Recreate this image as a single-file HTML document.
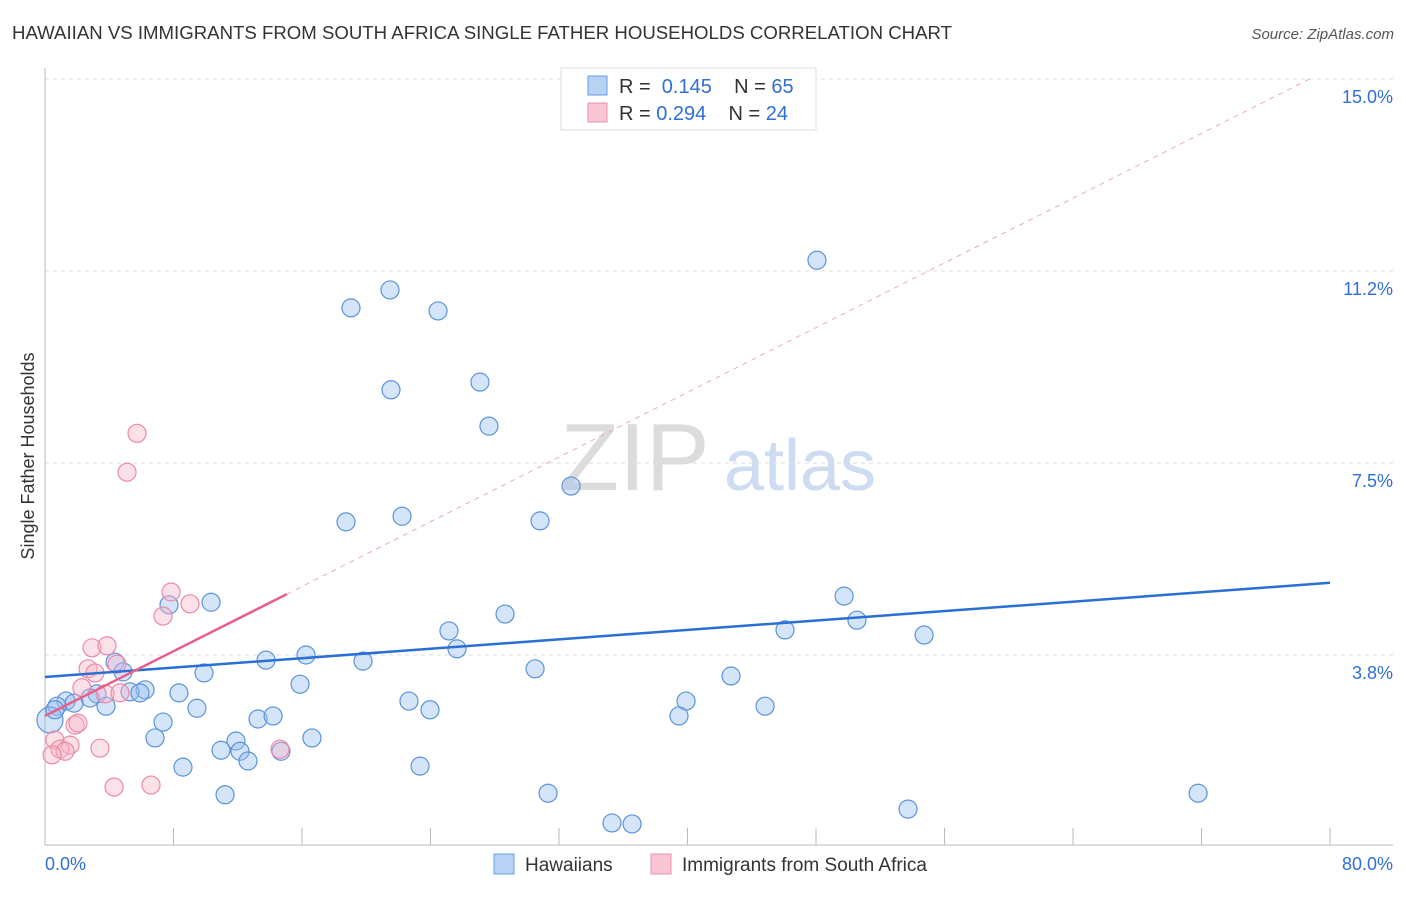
<!DOCTYPE html>
<html><head><meta charset="utf-8"><style>
body{margin:0;background:#fff;font-family:"Liberation Sans",sans-serif;}
svg text{font-family:"Liberation Sans",sans-serif;}
</style></head><body>
<svg width="1406" height="892" viewBox="0 0 1406 892" id="chart">
<text x="12" y="39" font-size="18" fill="#333" textLength="940" lengthAdjust="spacingAndGlyphs">HAWAIIAN VS IMMIGRANTS FROM SOUTH AFRICA SINGLE FATHER HOUSEHOLDS CORRELATION CHART</text>
<text x="1394" y="39" font-size="15" fill="#555" text-anchor="end" font-style="italic">Source: ZipAtlas.com</text>
<text x="635" y="490" font-size="96" fill="#dcdcdc" font-family="Liberation Serif" text-anchor="middle">ZIP</text>
<text x="800" y="490" font-size="72" fill="#cddcf0" text-anchor="middle">atlas</text>
<text transform="translate(34,456) rotate(-90)" font-size="18" fill="#333" text-anchor="middle">Single Father Households</text>
<g id="grid"></g><g id="pts"></g><g id="lines"></g>
<g>
<rect x="561" y="68" width="255" height="62" fill="#fff" stroke="#ddd"/>
<rect x="588" y="76" width="19" height="19" fill="#b8d2f4" stroke="#6a9ee0"/>
<text x="619" y="93" font-size="20" fill="#333" xml:space="preserve">R =  <tspan fill="#2f6fd6">0.145</tspan>    N = <tspan fill="#2f6fd6">65</tspan></text>
<rect x="588" y="103" width="19" height="19" fill="#f9c6d4" stroke="#e890a8"/>
<text x="619" y="120" font-size="20" fill="#333" xml:space="preserve">R = <tspan fill="#2f6fd6">0.294</tspan>    N = <tspan fill="#2f6fd6">24</tspan></text>
</g>
<g>
<rect x="494" y="854" width="20" height="20" fill="#b8d2f4" stroke="#6a9ee0"/>
<text x="525" y="871" font-size="19" fill="#333">Hawaiians</text>
<rect x="651" y="854" width="20" height="20" fill="#f9c6d4" stroke="#e890a8"/>
<text x="682" y="871" font-size="19" fill="#333">Immigrants from South Africa</text>
</g>
<text x="45" y="870" font-size="18" fill="#2f6fd6">0.0%</text>
<text x="1393" y="870" font-size="18" fill="#2f6fd6" text-anchor="end">80.0%</text>
</svg>
<script>
const yTicks=[15,11.25,7.5,3.75];
const yTickLabels=["15.0%","11.2%","7.5%","3.8%"];
const xTicks=[0,8,16,24,32,40,48,56,64,72,80];
const blueX=[48.06,21.48,19.05,24.47,21.54,27.08,27.64,32.75,18.74,22.23,30.82,49.75,50.55,54.73,46.07,28.64,25.15,25.65,10.34,7.72,16.25,19.8,13.76,9.9,4.36,4.86,15.88,30.51,42.71,39.91,39.47,44.83,22.66,23.97,8.34,6.23,5.29,5.91,3.24,2.8,1.31,0.75,1.81,3.8,9.46,7.35,13.26,14.2,6.85,16.62,11.89,10.96,12.14,12.64,14.69,8.59,23.35,11.21,31.32,35.3,36.55,53.73,71.79,0.31,0.62];
const blueY=[11.46,10.88,10.53,10.47,8.93,9.08,8.22,7.05,6.35,6.46,6.37,4.9,4.43,4.14,4.24,4.55,4.22,3.87,4.78,4.73,3.75,3.63,3.65,3.4,3.61,3.42,3.18,3.48,3.34,2.85,2.56,2.75,2.85,2.68,3.01,3.07,3.03,3.01,2.99,2.91,2.85,2.75,2.81,2.75,2.71,2.44,2.5,2.56,2.13,2.13,2.07,1.89,1.87,1.68,1.87,1.56,1.58,1.02,1.05,0.47,0.45,0.74,1.05,2.48,2.68];
const pinkX=[5.73,5.11,7.85,9.03,7.35,2.93,3.86,2.68,3.11,4.48,2.3,3.74,4.67,1.87,2.05,0.62,1.56,0.93,1.25,0.44,3.42,14.63,4.3,6.6];
const pinkY=[8.08,7.32,4.98,4.75,4.51,3.89,3.93,3.48,3.4,3.57,3.11,2.99,3.01,2.38,2.42,2.09,1.99,1.91,1.87,1.8,1.93,1.91,1.17,1.21];
const blueTrend=[3.32,5.16];
const pinkTrend=[2.56,0.158];
const X=v=>45+v/80*1285, Y=v=>847-v/3.75*192;
const NS="http://www.w3.org/2000/svg";
function mk(t,a,p){const e=document.createElementNS(NS,t);for(const k in a)e.setAttribute(k,a[k]);p.appendChild(e);return e;}
const grid=document.getElementById('grid');
yTicks.forEach((t,i)=>{
 const l=mk('line',{x1:45,x2:1393,y1:Y(t),y2:Y(t),stroke:'#ddd','stroke-dasharray':'4,4'},grid);
 
 
 const tx=mk('text',{x:1393,y:Y(t)+24,'font-size':18,fill:'#2f6fd6','text-anchor':'end'},grid);
 tx.textContent=yTickLabels[i];
 
 
});
const ax=mk('line',{x1:45,x2:45,y1:68,y2:845,stroke:'#bbb'},grid);


const bx=mk('line',{x1:45,x2:1393,y1:845,y2:845,stroke:'#bbb'},grid);


xTicks.forEach(t=>{
 const l=mk('line',{x1:X(t),x2:X(t),y1:828,y2:845,stroke:'#bbb'},grid);
 
 
});
const pts=document.getElementById('pts');
blueX.forEach((x,i)=>{
 const c=mk('circle',{cx:X(x),cy:Y(blueY[i]),r:i==63?13:9,fill:'rgba(150,190,240,0.4)',stroke:'#5b93dc','stroke-width':1.2},pts);
 
 
});
pinkX.forEach((x,i)=>{
 const c=mk('circle',{cx:X(x),cy:Y(pinkY[i]),r:9,fill:'rgba(248,180,200,0.4)',stroke:'#ec8aa6','stroke-width':1.2},pts);
 
 
});
const lines=document.getElementById('lines');
const bl=mk('line',{x1:X(0),y1:Y(blueTrend[0]),x2:X(80),y2:Y(blueTrend[1]),stroke:'#2a6fd4','stroke-width':2.5},lines);


const pEnd=15.06;
const ps=mk('line',{x1:X(0),y1:Y(pinkTrend[0]),x2:X(pEnd),y2:Y(pinkTrend[0]+pinkTrend[1]*pEnd),stroke:'#e8608a','stroke-width':2.5},lines);


const xe=(15-pinkTrend[0])/pinkTrend[1];
const pd=mk('line',{x1:X(pEnd),y1:Y(pinkTrend[0]+pinkTrend[1]*pEnd),x2:X(xe),y2:Y(15),stroke:'#eeaabd','stroke-width':1,'stroke-dasharray':'5,5'},lines);


</script>
</body></html>
